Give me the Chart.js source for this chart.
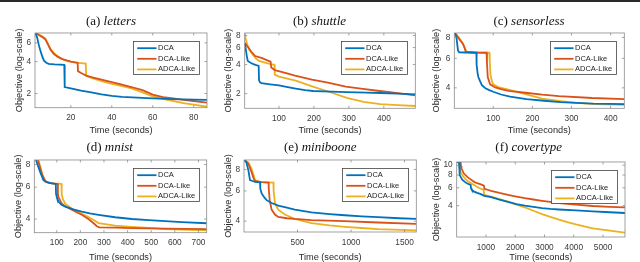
<!DOCTYPE html>
<html><head><meta charset="utf-8">
<script src="https://cdn.jsdelivr.net/npm/chart.js@4.4.1/dist/chart.umd.min.js"></script>
<style>
html,body{margin:0;padding:0;width:640px;height:262px;overflow:hidden;background:#fff;}
#topbar{position:absolute;left:0;top:0;width:640px;height:2px;background:#2a2a2a;}
canvas{position:absolute;}
.ttl{position:absolute;font-family:"Liberation Serif","Times New Roman",serif;font-size:13px;color:#111;white-space:nowrap;transform:translate(-50%,-50%);}
.ttl i{font-style:italic;}
</style></head><body>
<div id="topbar"></div>
<script>
// ---------- DATA ----------
const seriesNames = ['DCA', 'DCA-Like', 'ADCA-Like'];
const panelTags = ['(a)', '(b)', '(c)', '(d)', '(e)', '(f)'];
const panelNames = ['letters', 'shuttle', 'sensorless', 'mnist', 'miniboone', 'covertype'];
const xAxisLabel = 'Time (seconds)';
const yAxisLabel = 'Objective (log-scale)';

// x tick labels per panel
const xTicksA = [20, 40, 60, 80];
const xTicksB = [100, 200, 300, 400];
const xTicksC = [100, 200, 300, 400];
const xTicksD = [100, 200, 300, 400, 500, 600, 700];
const xTicksE = [500, 1000, 1500];
const xTicksF = [1000, 2000, 3000, 4000, 5000];
// y tick labels per panel
const yTicksA = [2, 4, 6];
const yTicksB = [2, 4, 6, 8];
const yTicksC = [4, 6, 8];
const yTicksD = [4, 6, 8];
const yTicksE = [4, 6, 8];
const yTicksF = [4, 6, 8, 10];
// axis ranges [xmin, xmax, ymin, ymax]
const rangeA = [2.5, 86.5, 1.47, 7.43];
const rangeB = [2, 490, 1.41, 8.5];
const rangeC = [0.5, 435, 3.02, 8.5];
const rangeD = [5, 735, 3.36, 8.48];
const rangeE = [0, 1610, 3.46, 9.08];
const rangeF = [0, 5750, 1.97, 10.75];

// (a) letters: [time, objective]
const lettersDCA = [[2.5,7.43],[3.5,6.8],[4.3,5.8],[5.1,5.07],[6,4.5],[6.8,4.1],[8,3.9],[9.2,3.8],[12,3.76],[16.8,3.72],[17,2.3],[20,2.24],[25,2.13],[30,2.05],[35,1.96],[40,1.9],[45,1.86],[50,1.84],[60,1.8],[70,1.77],[80,1.75],[86.5,1.74]];
const lettersDCALike = [[2.5,7.43],[4,7.2],[6,6.8],[7.5,6.5],[9,5.7],[10,5.2],[11.6,4.73],[13.5,4.45],[15.5,4.24],[18,4.1],[20,4.0],[23.3,3.9],[23.5,3.25],[25,3.12],[27.5,2.95],[30,2.85],[35,2.7],[40,2.56],[45,2.42],[50,2.29],[55,2.15],[60,1.95],[65,1.85],[70,1.8],[75,1.74],[80,1.7],[86.5,1.64]];
const lettersADCALike = [[2.5,7.43],[4,7.25],[6,6.9],[7.5,6.6],[9,5.8],[10,5.3],[11.6,4.85],[13.5,4.5],[15.5,4.25],[18,4.05],[22,3.9],[27.3,3.83],[27.5,2.95],[30,2.8],[35,2.62],[40,2.47],[45,2.35],[50,2.22],[55,2.05],[60,1.88],[65,1.78],[70,1.7],[75,1.62],[80,1.57],[86.5,1.5]];

// (b) shuttle
const shuttleDCA = [[2,6.7],[5,5.8],[8,4.9],[10.8,4.37],[20,4.15],[27,4.05],[35,3.95],[42,3.88],[43,2.75],[46,2.62],[50,2.57],[75,2.5],[100,2.43],[125,2.33],[148,2.25],[175,2.17],[197,2.13],[250,2.1],[294,2.07],[350,2.05],[390,2.03],[440,2.0],[490,1.97]];
const shuttleDCALike = [[2,6.7],[8,6.3],[13,5.97],[20,5.5],[32,4.91],[52,4.66],[65,4.45],[76,4.3],[78,3.73],[88,3.51],[110,3.35],[146,3.07],[194,2.8],[240,2.6],[291,2.37],[340,2.24],[388,2.13],[440,2.02],[490,1.92]];
const shuttleADCALike = [[2,8.5],[5,7.3],[9,6.5],[15,5.7],[24,5.11],[35,4.6],[43,4.37],[60,4.2],[76,4.05],[87,3.98],[88,3.15],[100,3.0],[148,2.73],[197,2.37],[245,2.08],[294,1.81],[342,1.64],[390,1.56],[440,1.52],[490,1.49]];

// (c) sensorless
const sensorlessDCA = [[0.5,8.5],[3,8.4],[6,8.0],[8,7.3],[10,6.67],[13,6.52],[30,6.5],[57,6.48],[57.5,5.5],[60,4.9],[62,4.64],[66,4.4],[71,4.15],[80,3.98],[90,3.88],[100,3.79],[120,3.65],[143,3.54],[185,3.43],[230,3.35],[271,3.29],[356,3.22],[435,3.2]];
const sensorlessDCALike = [[0.5,8.5],[5,8.3],[10,8.0],[17,7.6],[23,7.3],[27,6.9],[30,6.55],[50,6.5],[83,6.48],[84,5.6],[86,4.64],[92,4.2],[105,4.02],[120,3.93],[139,3.84],[182,3.74],[225,3.64],[268,3.57],[353,3.48],[435,3.43]];
const sensorlessADCALike = [[0.5,8.5],[5,8.35],[10,8.1],[17,7.7],[25,7.1],[32,6.55],[60,6.5],[90,6.48],[91,5.8],[93,4.8],[96,4.44],[100,4.2],[115,4.02],[139,3.91],[182,3.67],[225,3.45],[268,3.34],[310,3.25],[360,3.2],[435,3.17]];

// (d) mnist
const mnistDCA = [[12,8.48],[20,7.9],[30,7.27],[44,6.55],[65,6.35],[80,6.3],[96,6.25],[97,5.5],[100,5.31],[107,4.99],[120,4.8],[136,4.68],[170,4.52],[206,4.4],[240,4.3],[277,4.22],[347,4.09],[418,4.0],[490,3.94],[559,3.89],[630,3.84],[735,3.79]];
const mnistDCALike = [[20,8.48],[28,7.8],[37,7.1],[51,6.45],[72,6.32],[104,6.25],[105,5.5],[107,5.3],[121,4.87],[136,4.7],[178,4.4],[206,4.22],[234,4.0],[255,3.8],[270,3.65],[280,3.6],[350,3.58],[418,3.56],[559,3.54],[735,3.52]];
const mnistADCALike = [[22,8.48],[30,7.8],[40,7.0],[55,6.4],[80,6.3],[120,6.25],[121,5.5],[125,5.2],[136,4.85],[178,4.45],[206,4.28],[234,4.1],[260,3.92],[277,3.8],[347,3.68],[418,3.62],[490,3.57],[559,3.52],[735,3.46]];

// (e) miniboone
const minibooneDCA = [[0,9.08],[20,8.9],[41,7.9],[56,6.93],[80,6.85],[103,6.77],[150,6.72],[152,6.2],[165,5.8],[190,5.5],[211,5.3],[258,5.1],[320,4.93],[400,4.8],[475,4.67],[630,4.5],[800,4.4],[941,4.33],[1100,4.27],[1252,4.22],[1450,4.16],[1610,4.12]];
const minibooneDCALike = [[0,9.08],[41,8.62],[71,7.7],[90,7.1],[103,6.85],[165,6.75],[230,6.7],[231,6.2],[240,5.3],[258,4.67],[289,4.37],[320,4.23],[400,4.16],[475,4.12],[630,4.06],[941,4.0],[1252,3.93],[1610,3.86]];
const minibooneADCALike = [[0,9.08],[41,8.8],[71,8.07],[90,7.4],[103,6.93],[150,6.75],[275,6.7],[277,6.0],[289,5.1],[320,4.67],[382,4.37],[475,4.12],[630,3.9],[800,3.78],[941,3.71],[1100,3.65],[1252,3.6],[1610,3.54]];

// (f) covertype
const covertypeDCA = [[0,10.75],[80,10.75],[95,9.5],[110,7.99],[187,7.2],[280,6.85],[361,6.6],[477,6.4],[490,5.9],[520,5.7],[593,5.5],[700,5.35],[825,5.2],[941,5.0],[1174,4.85],[1460,4.6],[1751,4.35],[2040,4.15],[2332,4.0],[2620,3.9],[2913,3.79],[3200,3.72],[3490,3.67],[4071,3.59],[4652,3.51],[5230,3.45],[5750,3.39]];
const covertypeDCALike = [[0,10.75],[130,10.75],[150,9.8],[164,9.26],[245,8.28],[361,7.68],[477,7.25],[593,6.86],[700,6.65],[825,6.47],[930,6.3],[945,5.86],[1000,5.8],[1174,5.59],[1460,5.33],[1751,5.11],[2040,4.92],[2332,4.74],[2620,4.6],[2913,4.47],[3200,4.35],[3490,4.23],[4071,4.09],[4652,3.97],[5230,3.9],[5750,3.85]];
const covertypeADCALike = [[0,10.75],[70,10.75],[100,9.4],[130,8.6],[200,7.9],[300,7.3],[400,6.9],[593,6.4],[750,6.0],[920,5.72],[941,5.11],[1174,4.92],[1460,4.65],[1751,4.39],[2040,4.1],[2332,3.85],[2620,3.57],[2913,3.31],[3200,3.1],[3490,2.92],[3780,2.76],[4071,2.62],[4360,2.5],[4652,2.4],[5230,2.27],[5750,2.17]];

// ---------- LAYOUT / STYLE ----------
const seriesColors = ['#0072BD', '#D95319', '#EDB120'];
const panelData = [
  [lettersDCA, lettersDCALike, lettersADCALike],
  [shuttleDCA, shuttleDCALike, shuttleADCALike],
  [sensorlessDCA, sensorlessDCALike, sensorlessADCALike],
  [mnistDCA, mnistDCALike, mnistADCALike],
  [minibooneDCA, minibooneDCALike, minibooneADCALike],
  [covertypeDCA, covertypeDCALike, covertypeADCALike]
];
const panelXTicks = [xTicksA, xTicksB, xTicksC, xTicksD, xTicksE, xTicksF];
const panelYTicks = [yTicksA, yTicksB, yTicksC, yTicksD, yTicksE, yTicksF];
const panelRanges = [rangeA, rangeB, rangeC, rangeD, rangeE, rangeF];
// plot boxes (pixel geometry)
const geom = [
  {L:35,   R:207,   T:32.3,  B:107.7, yl:19,    xl:130.5, tx:111,   ty:20.5},
  {L:244.7,R:415.3, T:31.7,  B:108.3, yl:228,   xl:130.5, tx:319.5, ty:20.5},
  {L:454.3,R:624.3, T:32.3,  B:108.3, yl:436.7, xl:130.5, tx:529,   ty:20.5},
  {L:34.3, R:206.7, T:158.7, B:232.7, yl:18.3,  xl:257.7, tx:109.7, ty:147},
  {L:244,  R:416.3, T:158.7, B:232,   yl:228,   xl:257.7, tx:320.3, ty:147},
  {L:456.7,R:625,   T:161,   B:237,   yl:436.7, xl:257.7, tx:528.7, ty:147}
];

const SANS = '"Liberation Sans", Arial, Helvetica, sans-serif';
const tickColor = '#3a3a3a';

const boxPlugin = {
  id: 'matlabBox',
  afterDraw(chart) {
    const {ctx, chartArea: ca, scales} = chart;
    ctx.save();
    ctx.strokeStyle = '#8a8a8a';
    ctx.lineWidth = 0.8;
    ctx.strokeRect(ca.left, ca.top, ca.right - ca.left, ca.bottom - ca.top);
    ctx.beginPath();
    const tl = 2.5;
    scales.x.ticks.forEach(t => {
      const px = scales.x.getPixelForValue(t.value);
      ctx.moveTo(px, ca.bottom); ctx.lineTo(px, ca.bottom - tl);
      ctx.moveTo(px, ca.top); ctx.lineTo(px, ca.top + tl);
    });
    scales.y.ticks.forEach(t => {
      const py = scales.y.getPixelForValue(t.value);
      ctx.moveTo(ca.left, py); ctx.lineTo(ca.left + tl, py);
      ctx.moveTo(ca.right, py); ctx.lineTo(ca.right - tl, py);
    });
    ctx.stroke();
    // legend box
    const bw = 66, bh = 33;
    const bx = Math.round(ca.right - 8 - bw) + 0.5;
    const by = Math.round(ca.top + 8) + 0.5;
    ctx.fillStyle = '#ffffff';
    ctx.fillRect(bx, by, bw, bh);
    ctx.strokeStyle = '#444';
    ctx.lineWidth = 0.8;
    ctx.strokeRect(bx, by, bw, bh);
    ctx.font = '7.5px ' + SANS;
    ctx.textBaseline = 'middle';
    ctx.textAlign = 'left';
    chart.data.datasets.forEach((ds, i) => {
      const yy = by + 6.7 + i * 10.6;
      ctx.strokeStyle = ds.borderColor;
      ctx.lineWidth = 1.8;
      ctx.beginPath();
      ctx.moveTo(bx + 3.7, yy); ctx.lineTo(bx + 23, yy);
      ctx.stroke();
      ctx.fillStyle = '#222';
      ctx.fillText(ds.label, bx + 24.5, yy);
    });
    ctx.restore();
  }
};

panelData.forEach((series, k) => {
  const g = geom[k];
  const rng = panelRanges[k];
  const xT = panelXTicks[k], yT = panelYTicks[k];
  const cl = Math.round(g.yl - 5.5);
  const ct = Math.round(g.T - 8);
  const cw = Math.round(g.R + 10 - cl);
  const ch = Math.round(g.xl + 5.5 - ct);
  const padTop = g.T - ct;
  const padRight = cw - (g.R - cl);
  const yAxisW = g.L - cl;
  const xAxisH = ct + ch - g.B;

  const cv = document.createElement('canvas');
  cv.width = cw; cv.height = ch;
  cv.style.left = cl + 'px'; cv.style.top = ct + 'px';
  cv.style.width = cw + 'px'; cv.style.height = ch + 'px';
  document.body.appendChild(cv);

  const title = document.createElement('div');
  title.className = 'ttl';
  title.style.left = g.tx + 'px'; title.style.top = g.ty + 'px';
  title.innerHTML = panelTags[k] + ' <i>' + panelNames[k] + '</i>';
  document.body.appendChild(title);

  new Chart(cv, {
    type: 'line',
    data: {
      datasets: series.map((s, i) => ({
        label: seriesNames[i],
        data: s.map(p => ({x: p[0], y: p[1]})),
        borderColor: seriesColors[i],
        backgroundColor: seriesColors[i],
        borderWidth: 1.8,
        pointRadius: 0,
        fill: false,
        tension: 0
      }))
    },
    options: {
      responsive: false,
      animation: false,
      devicePixelRatio: 1,
      layout: {padding: {top: padTop, right: padRight, left: 0, bottom: 0}},
      plugins: {legend: {display: false}, tooltip: {enabled: false}},
      scales: {
        x: {
          type: 'linear', min: rng[0], max: rng[1],
          afterBuildTicks: s => { s.ticks = xT.map(v => ({value: v})); },
          afterFit: s => { s.height = xAxisH; },
          grid: {display: false, drawTicks: false},
          border: {display: false},
          ticks: {autoSkip: false, maxRotation: 0, padding: 5.5, color: tickColor,
                  font: {family: SANS, size: 8.3}, callback: v => String(v)},
          title: {display: true, text: xAxisLabel, color: '#2a2a2a', padding: 0,
                  font: {family: SANS, size: 9.2}}
        },
        y: {
          type: 'logarithmic', min: rng[2], max: rng[3],
          afterBuildTicks: s => { s.ticks = yT.map(v => ({value: v})); },
          afterFit: s => { s.width = yAxisW; },
          grid: {display: false, drawTicks: false},
          border: {display: false},
          ticks: {autoSkip: false, padding: 4, color: tickColor,
                  font: {family: SANS, size: 8.3}, callback: v => String(v)},
          title: {display: true, text: yAxisLabel, color: '#2a2a2a', padding: 0,
                  font: {family: SANS, size: 9.2}}
        }
      }
    },
    plugins: [boxPlugin]
  });
});
</script>
</body></html>
